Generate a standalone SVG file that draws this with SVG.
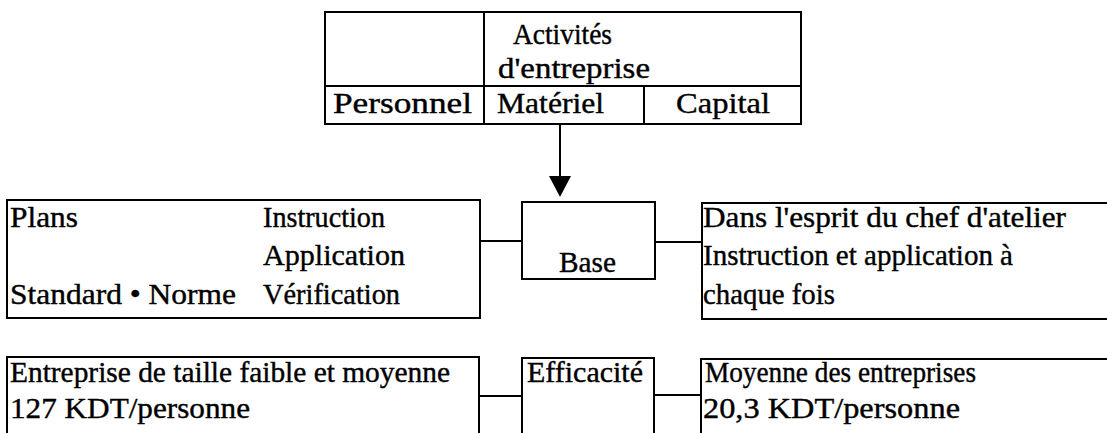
<svg xmlns="http://www.w3.org/2000/svg" width="1107" height="433" viewBox="0 0 1107 433">
  <style>
    .box { fill: none; stroke: #000; stroke-width: 2; }
    .ln { stroke: #000; stroke-width: 2; fill: none; }
    text { font-family: "Liberation Serif", "Times New Roman", serif; font-size: 30px; fill: #000; stroke: #000; stroke-width: 0.4; }
  </style>
  <rect width="1107" height="433" fill="#fff"/>

  <!-- Activités d'entreprise table -->
  <g id="activites">
    <rect class="box" x="325" y="12" width="476" height="112"/>
    <line class="ln" x1="325" y1="86" x2="801" y2="86"/>
    <line class="ln" x1="484" y1="12" x2="484" y2="124"/>
    <line class="ln" x1="644" y1="86" x2="644" y2="124"/>
    <text x="513" y="44" textLength="99" lengthAdjust="spacingAndGlyphs">Activités</text>
    <text x="498" y="78" textLength="152" lengthAdjust="spacingAndGlyphs">d'entreprise</text>
    <text x="333" y="113" textLength="139" lengthAdjust="spacingAndGlyphs">Personnel</text>
    <text x="497" y="113" textLength="107" lengthAdjust="spacingAndGlyphs">Matériel</text>
    <text x="676" y="113" textLength="94" lengthAdjust="spacingAndGlyphs">Capital</text>
  </g>

  <!-- Plans / standards box -->
  <g id="plans">
    <rect class="box" x="7" y="200" width="473" height="118"/>
    <text x="10" y="227" textLength="68" lengthAdjust="spacingAndGlyphs">Plans</text>
    <text x="263" y="227" textLength="122" lengthAdjust="spacingAndGlyphs">Instruction</text>
    <text x="263" y="265" textLength="142" lengthAdjust="spacingAndGlyphs">Application</text>
    <text x="10" y="304" textLength="226" lengthAdjust="spacingAndGlyphs">Standard • Norme</text>
    <text x="263" y="304" textLength="137" lengthAdjust="spacingAndGlyphs">Vérification</text>
  </g>

  <!-- Base -->
  <g id="base">
    <rect class="box" x="522" y="202" width="133" height="77"/>
    <text x="559" y="272" textLength="57" lengthAdjust="spacingAndGlyphs">Base</text>
  </g>

  <!-- Chef d'atelier box (open to the right) -->
  <g id="chef-atelier">
    <path class="ln" d="M1107,203 H702 V319 H1107"/>
    <text x="703" y="227" textLength="363" lengthAdjust="spacingAndGlyphs">Dans l'esprit du chef d'atelier</text>
    <text x="703" y="265" textLength="310" lengthAdjust="spacingAndGlyphs">Instruction et application à</text>
    <text x="703" y="304" textLength="132" lengthAdjust="spacingAndGlyphs">chaque fois</text>
  </g>

  <!-- Small and medium enterprises (open at the bottom) -->
  <g id="pme">
    <path class="ln" d="M7,433 V357 H479 V433"/>
    <text x="10" y="382" textLength="440" lengthAdjust="spacingAndGlyphs">Entreprise de taille faible et moyenne</text>
    <text x="10" y="418" textLength="240" lengthAdjust="spacingAndGlyphs">127 KDT/personne</text>
  </g>

  <!-- Efficacité -->
  <g id="efficacite">
    <path class="ln" d="M522,433 V358 H654 V433"/>
    <text x="527" y="382" textLength="116" lengthAdjust="spacingAndGlyphs">Efficacité</text>
  </g>

  <!-- Average of enterprises (open right and bottom) -->
  <g id="moyenne">
    <path class="ln" d="M701,433 V359 H1107"/>
    <text x="705" y="382" textLength="271" lengthAdjust="spacingAndGlyphs">Moyenne des entreprises</text>
    <text x="703" y="418" textLength="257" lengthAdjust="spacingAndGlyphs">20,3 KDT/personne</text>
  </g>

  <!-- Connectors -->
  <g id="connectors">
    <line class="ln" x1="560" y1="124" x2="560" y2="180"/>
    <polygon points="549,176 571,176 560,197" fill="#000"/>
    <line class="ln" x1="480" y1="241" x2="522" y2="241"/>
    <line class="ln" x1="655" y1="242" x2="702" y2="242"/>
    <line class="ln" x1="479" y1="396" x2="522" y2="396"/>
    <line class="ln" x1="654" y1="395" x2="701" y2="395"/>
  </g>
</svg>
